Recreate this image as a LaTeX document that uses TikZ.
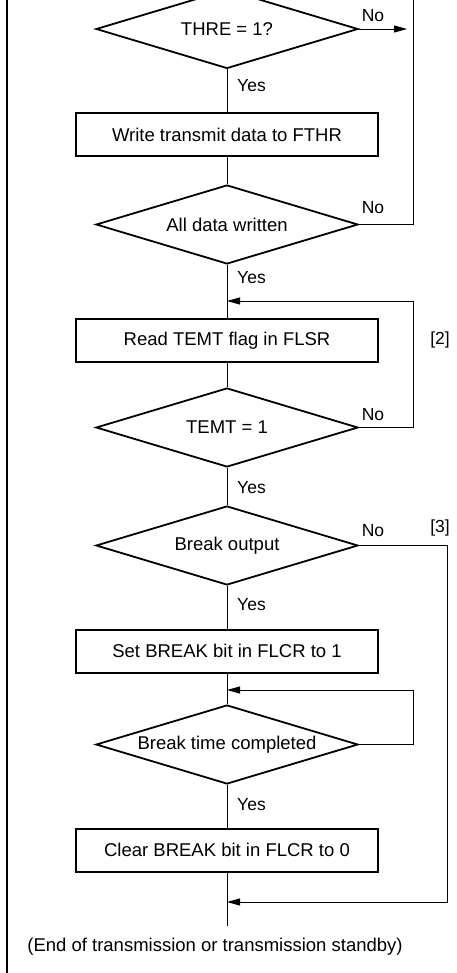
\documentclass[tikz,border=0pt]{standalone}
\usepackage{fontspec}
\setmainfont{Liberation Sans}
\usetikzlibrary{shapes.geometric,arrows.meta}
\begin{document}
\begin{tikzpicture}[x=1pt,y=-1pt,
  procbox/.style={draw,line width=2pt,minimum width=302pt,minimum height=43pt,inner sep=0pt,font=\fontsize{18.5}{20}\selectfont},
  decision/.style={draw,diamond,line width=1.8pt,minimum width=262pt,minimum height=79pt,inner sep=0pt,aspect=3.3,font=\fontsize{18.5}{20}\selectfont},
  conn/.style={line width=0.9pt},
  arr/.style={conn,-{Triangle[length=13pt,width=7pt]}},
  lbl/.style={font=\fontsize{17.5}{20}\selectfont,inner sep=0pt}]
\useasboundingbox (0,0) rectangle (456,973);
\clip (0,0) rectangle (456,973);
% border line
\coordinate (bt) at (7,-5);
\coordinate (bb) at (7,980);
\draw[line width=2.5pt] (bt) -- (bb);
% nodes
\node[decision] (d1) at (227,29) {THRE = 1?};
\node[procbox] (b1) at (227,134.5) {Write transmit data to FTHR};
\node[decision] (d2) at (227,224.5) {All data written};
\node[procbox] (b2) at (227,340.5) {Read TEMT flag in FLSR};
\node[decision] (d3) at (227,427.5) {TEMT = 1};
\node[decision] (d4) at (227,545.5) {Break output};
\node[procbox] (b3) at (227,651) {Set BREAK bit in FLCR to 1};
\node[decision] (d5) at (227,744.5) {Break time completed};
\node[procbox] (b4) at (227,850) {Clear BREAK bit in FLCR to 0};
\node[lbl,font=\fontsize{18.5}{20}\selectfont] (endt) at (215,947) {(End of transmission or transmission standby)};
% coordinates
\coordinate (j1) at (227,301);
\coordinate (j2) at (227,690);
\coordinate (j3) at (227,902);
\coordinate (e) at (227,926);
\coordinate (t1) at (407,29);
\coordinate (r) at (413,0);
\coordinate (rtop) at (413,-5);
\coordinate (rr) at (447,0);
% main flow
\draw[conn] (d1.south) -- (b1.north);
\draw[conn] (b1.south) -- (d2.north);
\draw[conn] (d2.south) -- (b2.north);
\draw[conn] (b2.south) -- (d3.north);
\draw[conn] (d3.south) -- (d4.north);
\draw[conn] (d4.south) -- (b3.north);
\draw[conn] (b3.south) -- (d5.north);
\draw[conn] (d5.south) -- (b4.north);
\draw[conn] (b4.south) -- (e);
% loops
\draw[arr] (d1.east) -- (t1);
\draw[conn] (d2.east) -- (d2.east -| r) -- (rtop);
\draw[arr] (d3.east) -- (d3.east -| r) |- (j1);
\draw[arr] (d4.east) -- (d4.east -| rr) |- (j3);
\draw[arr] (d5.east) -- (d5.east -| r) |- (j2);
% labels
\node[lbl,anchor=west] (y1) at (237,86) {Yes};
\node[lbl,anchor=west] (y2) at (237,278) {Yes};
\node[lbl,anchor=west] (y3) at (237,488) {Yes};
\node[lbl,anchor=west] (y4) at (237,605) {Yes};
\node[lbl,anchor=west] (y5) at (237,805) {Yes};
\node[lbl] (n1) at (373,16) {No};
\node[lbl] (n2) at (373,208) {No};
\node[lbl] (n3) at (373,415) {No};
\node[lbl] (n4) at (373,531) {No};
\node[lbl] (l2) at (440,340) {[2]};
\node[lbl] (l3) at (440,528) {[3]};
\end{tikzpicture}
\end{document}
